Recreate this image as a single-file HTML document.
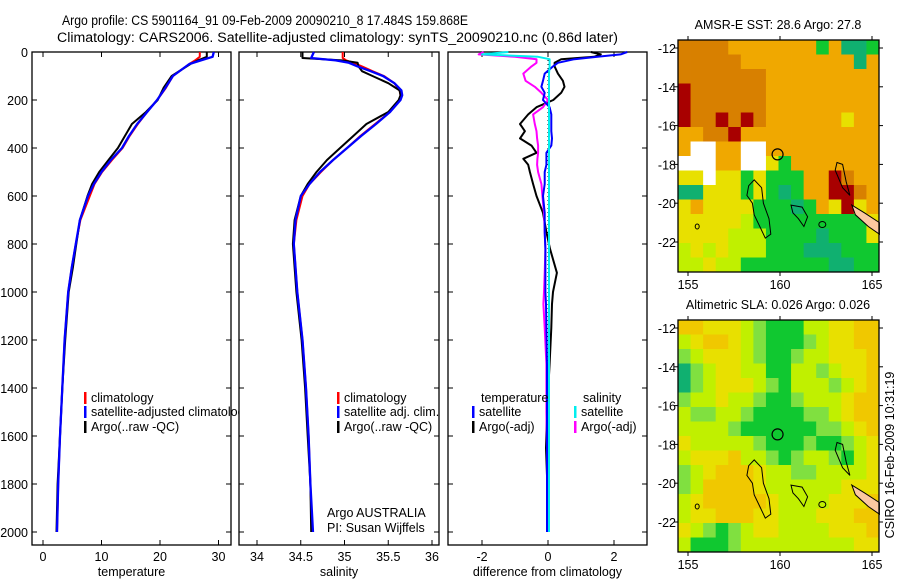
<!DOCTYPE html>
<html><head><meta charset="utf-8"><style>
body{margin:0;background:#fff;}
svg{display:block;font-family:"Liberation Sans",sans-serif;}
</style></head><body>
<svg id="chart" width="900" height="580" viewBox="0 0 900 580" xmlns="http://www.w3.org/2000/svg">
<defs><clipPath id="clip1"><rect x="0" y="0" width="239" height="580"/></clipPath></defs>
<rect width="900" height="580" fill="#fff"/>
<text x="62" y="25" font-size="13.5" textLength="406" lengthAdjust="spacingAndGlyphs">Argo profile: CS 5901164_91 09-Feb-2009 20090210_8 17.484S 159.868E</text>
<text x="57" y="42" font-size="13.5" textLength="561" lengthAdjust="spacingAndGlyphs">Climatology: CARS2006. Satellite-adjusted climatology: synTS_20090210.nc (0.86d later)</text>
<g id="plots"></g>
<text transform="translate(894,455) rotate(-90)" font-size="12.5" text-anchor="middle">CSIRO 16-Feb-2009 10:31:19</text>
</svg>
<script>
// ---- Panel 1: temperature ----
const tDepth=[0,20,35,50,100,150,200,250,300,350,400,450,500,550,600,700,800,900,1000,1200,1400,1600,1800,2000];
const tClim=[26.8,26.8,26.0,25.0,22.2,21.0,19.5,17.8,16.2,14.8,13.6,11.8,10.1,8.8,8.0,6.4,5.6,4.9,4.3,3.7,3.3,2.9,2.6,2.4];
const tSat=[29.2,29.0,27.0,25.0,22.2,20.9,19.5,17.8,16.1,14.7,13.5,11.6,10.0,8.7,7.7,6.3,5.6,4.9,4.3,3.7,3.3,2.9,2.6,2.4];
const tArgo=[28.0,28.0,26.5,25.2,22.0,20.6,19.6,17.6,15.2,14.0,12.8,11.2,9.6,8.4,7.6,6.3,5.7,5.1,4.4,3.8,3.3,2.9,2.5,2.3];
// ---- Panel 2: salinity ----
const sDepth=[0,25,35,45,60,80,100,130,160,180,200,250,300,350,400,450,500,550,600,700,800,1000,1200,1400,1600,1800,2000];
const sClim=[34.98,34.98,35.02,35.1,35.2,35.32,35.45,35.57,35.63,35.64,35.63,35.52,35.35,35.18,35.03,34.87,34.73,34.6,34.52,34.45,34.42,34.46,34.52,34.56,34.59,34.61,34.63];
const sSat=[34.65,34.62,34.9,35.05,35.15,35.3,35.44,35.57,35.65,35.66,35.64,35.52,35.36,35.19,35.03,34.87,34.72,34.6,34.5,34.44,34.42,34.46,34.52,34.56,34.59,34.61,34.64];
const sArgo=[34.52,34.52,34.97,35.15,35.16,35.2,35.32,35.5,35.63,35.64,35.62,35.5,35.25,35.1,34.95,34.8,34.68,34.58,34.5,34.43,34.41,34.45,34.51,34.55,34.58,34.61,34.62];
// ---- Panel 3: differences ----
const dDepth=[0,10,20,30,45,60,90,120,145,170,200,230,260,300,330,360,390,420,445,470,500,550,600,670,750,820,920,1000,1050,1150,1300,1500,1650,1800,2000];
const tSatDiff=[2.4,2.2,1.5,0.8,0.3,0.15,-0.1,-0.15,-0.2,-0.1,-0.15,0.05,0.1,0.1,0.1,0.12,0.1,-0.05,-0.05,-0.05,-0.1,-0.1,-0.15,-0.1,-0.1,-0.08,-0.08,-0.08,-0.06,-0.05,-0.03,-0.03,-0.03,-0.03,-0.03];
const tArgoDiff=[1.3,1.6,1.4,0.4,0.2,0.2,0.3,0.45,0.5,0.4,0.16,-0.35,-0.6,-0.85,-0.7,-0.85,-0.5,-0.35,-0.75,-0.6,-0.55,-0.45,-0.35,-0.15,-0.05,0.06,0.27,0.15,0.12,0.1,0.05,-0.03,-0.06,-0.02,0.0];
const sSatDiff=[-1.2,-2.0,-0.3,0.05,0.05,0.05,0.03,0.03,0.03,0.03,0.03,0.03,0.03,0.03,0.03,0.03,0.03,0.03,0.03,0.03,0.03,0.03,0.03,0.03,0.03,0.03,0.03,0.03,0.03,0.03,0.03,0.03,0.03,0.03,0.03];
const sArgoDiff=[-1.95,-2.1,-1.0,-0.35,-0.35,-0.5,-0.75,-0.68,-0.4,-0.2,0.0,-0.15,-0.45,-0.4,-0.35,-0.33,-0.3,-0.3,-0.32,-0.33,-0.3,-0.2,-0.17,-0.12,-0.1,-0.08,-0.1,-0.12,-0.14,-0.1,-0.05,-0.05,-0.03,-0.02,0.0];
const depthTicks=[0,200,400,600,800,1000,1200,1400,1600,1800,2000];
const tTicks=[0,10,20,30];
const sTicks=[34,34.5,35,35.5,36];
const dTicks=[-2,0,2];
// ---- Maps (coarse colour grids, 16x16) ----
const sstGrid=[
"DDDDOOOOOOOGOTTG","DDDDDOOOOOOOOOTO","DDDDDDDOOOOOOOOO","RDDDDDDOOOOOOOOO",
"RDDDDDDOOOOOOOOO","RDDRDRDOOOOOOYOO","OODDROOOOOOOOOOO","OWWOOWWOOOOOOOOO",
"WWWOOWWYGOOOOOOO","YYWYYGYGGGOORDOO","TTYYYGYGTGOORRDO","YOYYYYGGGTGOYRYO",
"YYYYYLGGGGGGGGGY","YYYYLLLGGGGTGGGY","LYLYLLLGGGTTTGGG","LLYLLGGGGGGGTTGG"];
const slaGrid=[
"QQYYYLMGGGLLYYQQ","LYQQYLMGGGMLYYQQ","MLYYYLMGGMLLYYYQ","TMLYYLLGGLLMLYYQ",
"TMLYYYLMGLLLMLYQ","MLLYLLMGGMLLLYQQ","LMMLLMGGGGMMLYQQ","LLLLMGGGGGGMMLYQ",
"YLLLLLMGGGMGGMLY","LYYYQLLMGMLLMGLY","MLYQQQYLLMMLLLLY","MLQQQQYLLLLLLYYY",
"LYQQQQQYLLLLYYYQ","LYYQQQYYLLLYYYQQ","YLMGMLYYLLLLYYYQ","LGGGMLLLLLLLLLYY"];
const mapLatTicks=[-12,-14,-16,-18,-20,-22];
const mapLonTicks=[155,160,165];
const argoLon=159.868, argoLat=-17.484;

const NS="http://www.w3.org/2000/svg";
const root=document.getElementById('plots');
function mk(tag,attrs,parent){const e=document.createElementNS(NS,tag);for(const k in attrs)e.setAttribute(k,attrs[k]);(parent||root).appendChild(e);return e;}
const Y0=52,KY=0.24,BOT=545;
const yD=d=>Y0+KY*d;

function panel(name,x0,x1,xs,ticks,tickFmt,xlabel,showY){
  const g=mk('g',{});
  
  
  const box=mk('rect',{x:x0,y:Y0,width:x1-x0,height:BOT-Y0,fill:'none',stroke:'#000','stroke-width':1.3},g);
  
  
  depthTicks.forEach(d=>{
    mk('line',{x1:x0,x2:x0+5,y1:yD(d),y2:yD(d),stroke:'#000'},g);
    mk('line',{x1:x1-5,x2:x1,y1:yD(d),y2:yD(d),stroke:'#000'},g);
    if(showY){const t=mk('text',{x:x0-4,y:yD(d)+5,'font-size':12.5,'text-anchor':'end'},g);t.textContent=d;
      
      }
  });
  ticks.forEach(v=>{
    const x=xs(v);
    mk('line',{x1:x,x2:x,y1:Y0,y2:Y0+5,stroke:'#000'},g);
    mk('line',{x1:x,x2:x,y1:BOT-5,y2:BOT,stroke:'#000'},g);
    const t=mk('text',{x:x,y:BOT+16,'font-size':12.5,'text-anchor':'middle'},g);t.textContent=tickFmt(v);
    
    
  });
  const xl=mk('text',{x:(x0+x1)/2,y:BOT+31,'font-size':12.5,'text-anchor':'middle'},g);xl.textContent=xlabel;
  
  
  return g;
}
function line(g,depths,vals,xs,color,w,name){
  const p=mk('polyline',{points:depths.map((d,i)=>xs(vals[i]).toFixed(1)+','+yD(d).toFixed(1)).join(' '),fill:'none',stroke:color,'stroke-width':w,'stroke-linejoin':'round'},g);
  
  
}
function legend(g,x,y,color,label){
  mk('rect',{x:x,y:y-10,width:2.5,height:12,fill:color},g);
  const t=mk('text',{x:x+7,y:y,'font-size':12.5},g);t.textContent=label;
  
  
}
// panel 1
const xT=v=>43+5.85*v;
const g1=panel('temperature-panel',32,231,xT,tTicks,v=>v,'temperature',true);
line(g1,tDepth,tClim,xT,'#f00',2,'temperature-climatology-line');
line(g1,tDepth,tArgo,xT,'#000',2,'temperature-argo-line');
line(g1,tDepth,tSat,xT,'#00f',2.3,'temperature-satellite-line');
const lg1=mk('g',{'clip-path':'url(#clip1)'},g1);


legend(lg1,84,402,'#f00','climatology');
legend(lg1,84,416,'#00f','satellite-adjusted climatology');
legend(lg1,84,431,'#000','Argo(..raw -QC)');
// panel 2
const xS=v=>257+87.5*(v-34);
const g2=panel('salinity-panel',239,439,xS,sTicks,v=>v,'salinity',false);
line(g2,sDepth,sClim,xS,'#f00',2,'salinity-climatology-line');
line(g2,sDepth,sArgo,xS,'#000',2,'salinity-argo-line');
line(g2,sDepth,sSat,xS,'#00f',2.3,'salinity-satellite-line');
legend(g2,337,402,'#f00','climatology');
legend(g2,337,416,'#00f','satellite adj. clim.');
legend(g2,337,431,'#000','Argo(..raw -QC)');
let t=mk('text',{x:327,y:517,'font-size':12.5},g2);t.textContent='Argo AUSTRALIA';


t=mk('text',{x:327,y:532,'font-size':12.5},g2);t.textContent='PI: Susan Wijffels';


// panel 3
const xDf=v=>548+33*v;
const g3=panel('difference-panel',448,647,xDf,dTicks,v=>v,'difference from climatology',false);
mk('line',{x1:xDf(0),x2:xDf(0),y1:Y0,y2:yD(2000),stroke:'#000','stroke-dasharray':'1,3'},g3);
line(g3,dDepth,tArgoDiff,xDf,'#000',2,'temperature-argo-diff-line');
line(g3,dDepth,sArgoDiff,xDf,'#f0f',2,'salinity-argo-diff-line');
line(g3,dDepth,tSatDiff,xDf,'#00f',2,'temperature-satellite-diff-line');
line(g3,dDepth,sSatDiff,xDf,'#0ee',2,'salinity-satellite-diff-line');
t=mk('text',{x:481,y:402,'font-size':12.5},g3);t.textContent='temperature';


t=mk('text',{x:583,y:402,'font-size':12.5},g3);t.textContent='salinity';


legend(g3,472,416,'#00f','satellite');
legend(g3,472,431,'#000','Argo(-adj)');
legend(g3,574,416,'#0ee','satellite');
legend(g3,574,431,'#f0f','Argo(-adj)');

// maps
const COL={D:'#d88000',O:'#f0a800',R:'#a80000',Y:'#e8e000',L:'#c0f000',M:'#80e040',G:'#10c830',T:'#10b070',W:'#ffffff',Q:'#f0c800'};
function map(name,top,grid,title){
  const x0=678,x1=879,y1=top+232;
  const lx=lon=>688+18.4*(lon-155);
  const ly=lat=>top+8+19.4*(-12-lat);
  const g=mk('g',{});
  
  
  const cw=(x1-x0)/16,ch=(y1-top)/16;
  grid.forEach((row,r)=>{[...row].forEach((c,k)=>{
    mk('rect',{x:(x0+k*cw).toFixed(2),y:(top+r*ch).toFixed(2),width:(cw+0.4).toFixed(2),height:(ch+0.4).toFixed(2),fill:COL[c]},g);
  });});
  const P=pts=>pts.map(p=>lx(p[0]).toFixed(1)+','+ly(p[1]).toFixed(1)).join(' ');
  mk('polygon',{points:P([[163.9,-20.1],[164.6,-20.5],[165.4,-21.0],[165.4,-21.6],[164.8,-21.2],[164.1,-20.6]]),fill:'#fcc8a0',stroke:'#000','stroke-width':1},g);
  mk('polygon',{points:P([[158.6,-18.8],[159.0,-19.2],[159.1,-20.0],[159.4,-20.8],[159.5,-21.6],[159.2,-21.8],[158.9,-21.2],[158.6,-20.6],[158.5,-20.0],[158.2,-19.6],[158.3,-19.1]]),fill:'none',stroke:'#000','stroke-width':1},g);
  mk('polygon',{points:P([[160.6,-20.1],[161.2,-20.2],[161.5,-20.7],[161.3,-21.2],[161.0,-20.8],[160.7,-20.5]]),fill:'none',stroke:'#000','stroke-width':1},g);
  mk('polygon',{points:P([[163.1,-17.9],[163.4,-18.0],[163.6,-18.9],[163.8,-19.6],[163.4,-19.2],[163.0,-18.3]]),fill:'none',stroke:'#000','stroke-width':1},g);
  mk('ellipse',{cx:lx(162.3),cy:ly(-21.1),rx:3.5,ry:3,fill:'none',stroke:'#000'},g);
  mk('ellipse',{cx:lx(155.5),cy:ly(-21.2),rx:2,ry:2.5,fill:'none',stroke:'#000'},g);
  const mk1=mk('circle',{cx:lx(argoLon),cy:ly(argoLat),r:5.5,fill:'none',stroke:'#000','stroke-width':1.2},g);
  
  
  mk('rect',{x:x0,y:top,width:x1-x0,height:y1-top,fill:'none',stroke:'#000','stroke-width':1.3},g);
  mapLatTicks.forEach(v=>{
    mk('line',{x1:x0-4,x2:x0,y1:ly(v),y2:ly(v),stroke:'#000'},g);
    mk('line',{x1:x1,x2:x1+4,y1:ly(v),y2:ly(v),stroke:'#000'},g);
    const tt=mk('text',{x:x0-2,y:ly(v)+5,'font-size':12.5,'text-anchor':'end'},g);tt.textContent=v;
    
    
  });
  mapLonTicks.forEach(v=>{
    mk('line',{x1:lx(v),x2:lx(v),y1:y1,y2:y1+4,stroke:'#000'},g);
    mk('line',{x1:lx(v),x2:lx(v),y1:top-4,y2:top,stroke:'#000'},g);
    const tt=mk('text',{x:lx(v),y:y1+17,'font-size':12.5,'text-anchor':'middle'},g);tt.textContent=v;
    
    
  });
  const ti=mk('text',{x:778,y:top-11,'font-size':12.5,'text-anchor':'middle'},g);ti.textContent=title;
  
  
}
map('sst-map',40,sstGrid,'AMSR-E SST: 28.6 Argo: 27.8');
map('sla-map',320,slaGrid,'Altimetric SLA: 0.026 Argo: 0.026');
</script>
</body></html>
